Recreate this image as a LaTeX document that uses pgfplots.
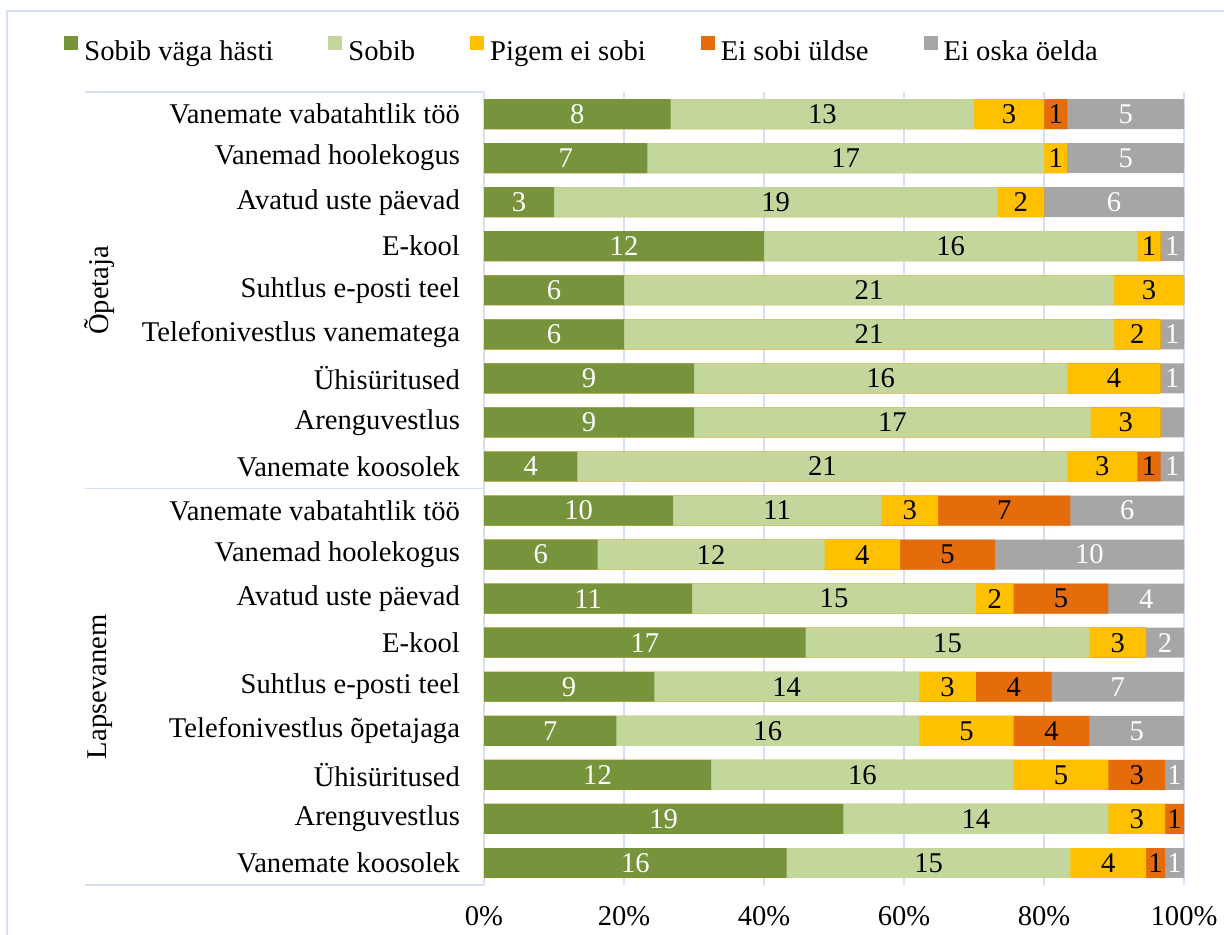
\documentclass[border=0pt]{standalone}
\usepackage{fontspec}
\setmainfont{Liberation Serif}
\usepackage{pgfplots}
\usepackage{pgfplotstable}
\pgfplotsset{compat=1.18}

\definecolor{cA}{HTML}{77933C}
\definecolor{cB}{HTML}{C3D69B}
\definecolor{cC}{HTML}{FFC000}
\definecolor{cD}{HTML}{E46C0A}
\definecolor{cE}{HTML}{A6A6A6}
\definecolor{lineblue}{HTML}{D5E0F2}

% counts per answer; l5 = label shown on the grey segment (0 = none); t = total
\pgfplotstableread{
y  c1 c2 c3 c4 c5 l5 t
0  8  13 3  1  5  5  30
1  7  17 1  0  5  5  30
2  3  19 2  0  6  6  30
3  12 16 1  0  1  1  30
4  6  21 3  0  0  0  30
5  6  21 2  0  1  1  30
6  9  16 4  0  1  1  30
7  9  17 3  0  1  0  30
8  4  21 3  1  1  1  30
9  10 11 3  7  6  6  37
10 6  12 4  5  10 10 37
11 11 15 2  5  4  4  37
12 17 15 3  0  2  2  37
13 9  14 3  4  7  7  37
14 7  16 5  4  5  5  37
15 12 16 5  3  1  1  37
16 19 14 3  1  0  0  37
17 16 15 4  1  1  1  37
}\data

\pgfplotsset{
  seg/.style={xbar, bar shift=0pt, draw=none, fill=#1, forget plot},
  lab/.style={forget plot, draw=none, mark=none,
    nodes near coords={\ifnum\pgfplotspointmeta=0 \else\pgfplotspointmeta\fi},
    point meta=explicit symbolic,
    nodes near coords style={anchor=center, text=#1, inner sep=0pt}},
}

\begin{document}
\begin{tikzpicture}[font=\fontsize{14.3}{17}\selectfont]
\path[use as bounding box] (0,0) rectangle (612pt,-467.5pt);
\draw[lineblue, line width=0.8pt] (3.5pt,-480pt) -- (3.5pt,-5.5pt) -- (620pt,-5.5pt);
\begin{axis}[
  at={(242pt,-442.5pt)}, anchor=south west,
  width=350pt, height=396.5pt, scale only axis,
  xmin=0, xmax=100, ymin=-0.5, ymax=17.5, y dir=reverse,
  axis line style={draw=none},
  xtick={0,20,...,100}, xticklabels={0\%,20\%,40\%,60\%,80\%,100\%},
  ytick={0,...,17},
  yticklabels={Vanemate vabatahtlik töö, Vanemad hoolekogus, Avatud uste päevad, E-kool, Suhtlus e-posti teel, Telefonivestlus vanematega, Ühisüritused, Arenguvestlus, Vanemate koosolek,
               Vanemate vabatahtlik töö, Vanemad hoolekogus, Avatud uste päevad, E-kool, Suhtlus e-posti teel, Telefonivestlus õpetajaga, Ühisüritused, Arenguvestlus, Vanemate koosolek},
  major tick length=0pt,
  xmajorgrids, grid style={lineblue, line width=0.8pt},
  bar width=0.68,
  clip=false,
  legend columns=5,
  legend style={at={(axis description cs:-0.6,1.053)}, anchor=west, draw=none, fill=none,
    inner sep=0pt, nodes={inner sep=0pt},
    /tikz/every odd column/.style={column sep=3pt},
    /tikz/every even column/.style={column sep=27.5pt}},
  legend image code/.code={\fill[#1] (0pt,0.8pt) rectangle (7pt,7.8pt);},
  xticklabel style={yshift=-7pt},
  yticklabel style={xshift=-8.5pt},
  /pgf/number format/assume math mode=true,
]
\addlegendimage{fill=cA, draw=none}\addlegendentry{Sobib väga hästi}
\addlegendimage{fill=cB, draw=none}\addlegendentry{Sobib}
\addlegendimage{fill=cC, draw=none}\addlegendentry{Pigem ei sobi}
\addlegendimage{fill=cD, draw=none}\addlegendentry{Ei sobi üldse}
\addlegendimage{fill=cE, draw=none}\addlegendentry{Ei oska öelda}

\addplot[seg=cE] table[x expr={(\thisrow{c1}+\thisrow{c2}+\thisrow{c3}+\thisrow{c4}+\thisrow{c5})*100/\thisrow{t}}, y=y] {\data};
\addplot[seg=cD] table[x expr={(\thisrow{c1}+\thisrow{c2}+\thisrow{c3}+\thisrow{c4})*100/\thisrow{t}}, y=y] {\data};
\addplot[seg=cC] table[x expr={(\thisrow{c1}+\thisrow{c2}+\thisrow{c3})*100/\thisrow{t}}, y=y] {\data};
\addplot[seg=cB] table[x expr={(\thisrow{c1}+\thisrow{c2})*100/\thisrow{t}}, y=y] {\data};
\addplot[seg=cA] table[x expr={\thisrow{c1}*100/\thisrow{t}}, y=y] {\data};

\addplot[lab=white] table[x expr={\thisrow{c1}*50/\thisrow{t}}, y=y, meta=c1] {\data};
\addplot[lab=black] table[x expr={(\thisrow{c1}+0.5*\thisrow{c2})*100/\thisrow{t}}, y=y, meta=c2] {\data};
\addplot[lab=black] table[x expr={(\thisrow{c1}+\thisrow{c2}+0.5*\thisrow{c3})*100/\thisrow{t}}, y=y, meta=c3] {\data};
\addplot[lab=black] table[x expr={(\thisrow{c1}+\thisrow{c2}+\thisrow{c3}+0.5*\thisrow{c4})*100/\thisrow{t}}, y=y, meta=c4] {\data};
\addplot[lab=white] table[x expr={(\thisrow{c1}+\thisrow{c2}+\thisrow{c3}+\thisrow{c4}+0.5*\thisrow{c5})*100/\thisrow{t}}, y=y, meta=l5] {\data};

\draw[lineblue, line width=0.8pt] (axis cs:0,-0.5) -- ([xshift=-199.5pt]axis cs:0,-0.5);
\draw[lineblue, line width=0.8pt] (axis cs:0,8.5) -- ([xshift=-199.5pt]axis cs:0,8.5);
\draw[lineblue, line width=0.8pt] (axis cs:0,17.5) -- ([xshift=-199.5pt]axis cs:0,17.5);
\node[rotate=90] at ([xshift=-192pt]axis cs:0,4) {Õpetaja};
\node[rotate=90] at ([xshift=-192pt]axis cs:0,13) {Lapsevanem};
\end{axis}
\end{tikzpicture}
\end{document}
